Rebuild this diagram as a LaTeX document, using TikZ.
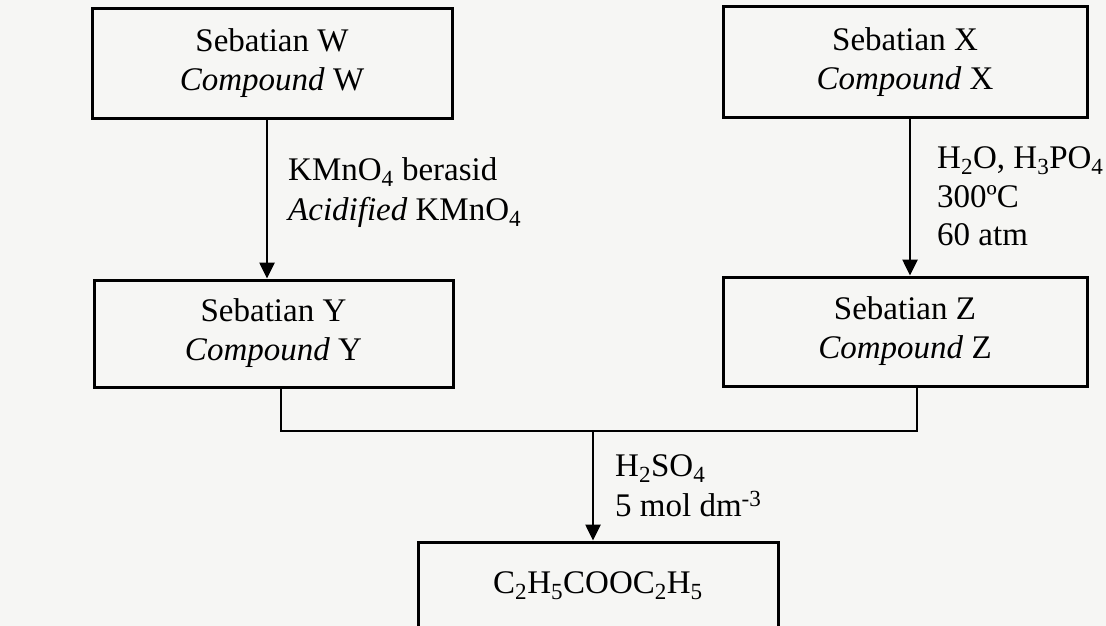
\documentclass[tikz,border=0pt]{standalone}
\usepackage{fontspec}
\setmainfont{Liberation Serif}
\usetikzlibrary{arrows.meta}
\definecolor{paper}{RGB}{246,246,244}
\tikzset{
  cbox/.style={draw=black, line width=3pt, rectangle, inner sep=0pt, align=center,
    font=\fontsize{33}{39}\selectfont},
  lbl/.style={anchor=base west, inner sep=0pt, font=\fontsize{33}{39}\selectfont},
  conn/.style={line width=2.6pt},
  arr/.style={line width=2.6pt, -{Triangle[width=15pt,length=16pt]}},
}
\begin{document}
\begin{tikzpicture}[x=1pt,y=-1pt]
\useasboundingbox (0,0) rectangle (1106,626);
\fill[paper] (0,0) rectangle (1106,626);
\begin{scope}
\clip (0,0) rectangle (1106,626);
% boxes
\node[cbox, minimum width=360pt, minimum height=109pt] (W) at (272,63.5) {Sebatian W\\\textit{Compound} W};
\node[cbox, minimum width=364pt, minimum height=110pt] (X) at (905,62) {Sebatian X\\\textit{Compound} X};
\node[cbox, minimum width=359pt, minimum height=107pt] (Y) at (273.5,333.5) {Sebatian Y\\\textit{Compound} Y};
\node[cbox, minimum width=364pt, minimum height=109pt] (Z) at (905,331.5) {Sebatian Z\\\textit{Compound} Z};
\node[cbox, minimum width=360pt, minimum height=110pt] (P) at (598,597) {};
\node[lbl, anchor=base] (Pt) at (598,593) {C\textsubscript{2}H\textsubscript{5}COOC\textsubscript{2}H\textsubscript{5}};
\end{scope}
% arrow W -> Y
\coordinate (a1) at (267,0);
\draw[arr] (W.south -| a1) -- (Y.north -| a1);
\node[lbl] (k1) at (288,180) {KMnO\textsubscript{4} berasid};
\node[lbl] (k2) at (288,220) {\textit{Acidified} KMnO\textsubscript{4}};
% arrow X -> Z
\coordinate (a2) at (910,0);
\draw[arr] (X.south -| a2) -- (Z.north -| a2);
\node[lbl] (h1) at (937,168) {H\textsubscript{2}O, H\textsubscript{3}PO\textsubscript{4}};
\node[lbl] (h2) at (937,207) {300ºC};
\node[lbl] (h3) at (937,245) {60 atm};
% joining connector
\coordinate (j1) at (281,431);
\coordinate (j2) at (917,431);
\coordinate (jm) at (593,431);
\draw[conn] (Y.south -| j1) -- (j1) -- (j2) -- (Z.south -| j2);
\draw[arr] (jm) -- (P.north -| jm);
\node[lbl] (s1) at (615,476) {H\textsubscript{2}SO\textsubscript{4}};
\node[lbl] (s2) at (615,516) {5 mol dm\textsuperscript{-3}};
\end{tikzpicture}
\end{document}
